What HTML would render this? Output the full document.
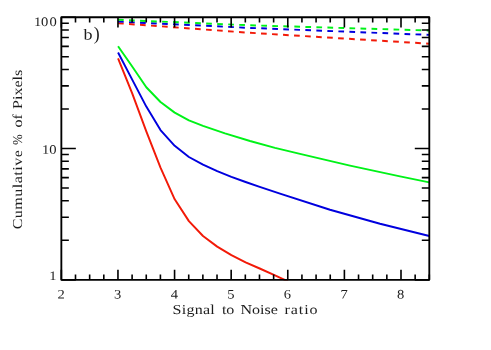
<!DOCTYPE html><html><head><meta charset="utf-8"><style>html,body{margin:0;padding:0;background:#fff;}svg{display:block;will-change:transform}text{font-family:"Liberation Serif",serif;fill:#1c1c1c}</style></head><body>
<svg width="491" height="350" viewBox="0 0 491 350">
<rect width="491" height="350" fill="#fff"/>
<defs><clipPath id="cp"><rect x="61.35" y="17.20" width="367.95" height="263.25"/></clipPath></defs><g clip-path="url(#cp)">
<polyline points="118.00,23.20 250.00,32.80 429.30,43.70" fill="none" stroke="#f21a08" stroke-width="1.95" stroke-linejoin="round" stroke-dasharray="5.7 5.33"/>
<polyline points="118.00,21.60 250.00,27.90 429.30,34.90" fill="none" stroke="#0000de" stroke-width="1.95" stroke-linejoin="round" stroke-dasharray="5.7 5.33"/>
<polyline points="118.00,19.80 250.00,25.30 429.30,30.50" fill="none" stroke="#00f218" stroke-width="1.95" stroke-linejoin="round" stroke-dasharray="5.7 5.33"/>
<polyline points="118.06,58.40 132.20,93.40 146.30,131.30 160.50,167.60 174.70,199.30 188.90,221.10 203.00,236.00 217.20,246.60 231.40,255.10 245.60,262.30 259.70,268.50 273.90,274.90 288.00,281.40" fill="none" stroke="#f21a08" stroke-width="1.95" stroke-linejoin="round"/>
<polyline points="118.06,52.50 132.20,79.60 146.30,106.60 160.50,130.10 174.70,145.80 188.90,157.00 203.00,164.70 217.20,171.20 231.40,176.80 245.60,182.00 259.70,186.90 280.00,193.60 330.00,209.70 380.00,223.80 429.30,236.00" fill="none" stroke="#0000de" stroke-width="1.95" stroke-linejoin="round"/>
<polyline points="118.06,46.30 132.20,66.50 146.30,87.30 160.50,102.00 174.70,112.60 188.90,120.40 203.00,125.90 225.00,133.40 250.00,141.00 275.00,147.90 300.00,153.90 350.00,165.60 400.00,176.40 429.30,182.40" fill="none" stroke="#00f218" stroke-width="1.95" stroke-linejoin="round"/>
</g>
<g stroke="#000" fill="none" stroke-linejoin="round">
<rect x="61.35" y="17.20" width="367.95" height="262.65" stroke-width="1.85"/>
<path d="M61.35 279.85V269.65M61.35 17.20V27.40M75.50 279.85V274.45M75.50 17.20V22.60M89.65 279.85V274.45M89.65 17.20V22.60M103.81 279.85V274.45M103.81 17.20V22.60M117.96 279.85V269.65M117.96 17.20V27.40M132.11 279.85V274.45M132.11 17.20V22.60M146.26 279.85V274.45M146.26 17.20V22.60M160.41 279.85V274.45M160.41 17.20V22.60M174.57 279.85V269.65M174.57 17.20V27.40M188.72 279.85V274.45M188.72 17.20V22.60M202.87 279.85V274.45M202.87 17.20V22.60M217.02 279.85V274.45M217.02 17.20V22.60M231.17 279.85V269.65M231.17 17.20V27.40M245.32 279.85V274.45M245.32 17.20V22.60M259.48 279.85V274.45M259.48 17.20V22.60M273.63 279.85V274.45M273.63 17.20V22.60M287.78 279.85V269.65M287.78 17.20V27.40M301.93 279.85V274.45M301.93 17.20V22.60M316.08 279.85V274.45M316.08 17.20V22.60M330.24 279.85V274.45M330.24 17.20V22.60M344.39 279.85V269.65M344.39 17.20V27.40M358.54 279.85V274.45M358.54 17.20V22.60M372.69 279.85V274.45M372.69 17.20V22.60M386.84 279.85V274.45M386.84 17.20V22.60M401.00 279.85V269.65M401.00 17.20V27.40M415.15 279.85V274.45M415.15 17.20V22.60M429.30 279.85V274.45M429.30 17.20V22.60M61.35 279.85H75.85M429.30 279.85H414.80M61.35 240.32H68.85M429.30 240.32H421.80M61.35 217.19H68.85M429.30 217.19H421.80M61.35 200.78H68.85M429.30 200.78H421.80M61.35 188.06H68.85M429.30 188.06H421.80M61.35 177.66H68.85M429.30 177.66H421.80M61.35 168.87H68.85M429.30 168.87H421.80M61.35 161.25H68.85M429.30 161.25H421.80M61.35 154.53H68.85M429.30 154.53H421.80M61.35 148.53H75.85M429.30 148.53H414.80M61.35 108.99H68.85M429.30 108.99H421.80M61.35 85.87H68.85M429.30 85.87H421.80M61.35 69.46H68.85M429.30 69.46H421.80M61.35 56.73H68.85M429.30 56.73H421.80M61.35 46.33H68.85M429.30 46.33H421.80M61.35 37.54H68.85M429.30 37.54H421.80M61.35 29.93H68.85M429.30 29.93H421.80M61.35 23.21H68.85M429.30 23.21H421.80M61.35 17.20H75.85M429.30 17.20H414.80" stroke-width="1.60"/>
</g>
<text transform="translate(61.05 298.50) rotate(0.03) scale(1.120 1)" font-size="13.00" text-anchor="middle">2</text>
<text transform="translate(117.66 298.50) rotate(0.03) scale(1.120 1)" font-size="13.00" text-anchor="middle">3</text>
<text transform="translate(174.27 298.50) rotate(0.03) scale(1.120 1)" font-size="13.00" text-anchor="middle">4</text>
<text transform="translate(230.87 298.50) rotate(0.03) scale(1.120 1)" font-size="13.00" text-anchor="middle">5</text>
<text transform="translate(287.48 298.50) rotate(0.03) scale(1.120 1)" font-size="13.00" text-anchor="middle">6</text>
<text transform="translate(344.09 298.50) rotate(0.03) scale(1.120 1)" font-size="13.00" text-anchor="middle">7</text>
<text transform="translate(400.70 298.50) rotate(0.03) scale(1.120 1)" font-size="13.00" text-anchor="middle">8</text>
<text transform="translate(57.90 25.90) rotate(0.03) scale(1.120 1)" font-size="13.00" text-anchor="end" letter-spacing="1.00">1<tspan dx="-1.1">00</tspan></text>
<text transform="translate(57.70 153.80) rotate(0.03) scale(1.120 1)" font-size="13.00" text-anchor="end" letter-spacing="1.00">1<tspan dx="-1.1">0</tspan></text>
<text transform="translate(56.60 280.00) rotate(0.03) scale(1.120 1)" font-size="13.00" text-anchor="end">1</text>
<text transform="translate(172.60 313.90) rotate(0.03) scale(1.180 1)" font-size="13.60"><tspan x="0" letter-spacing="0.2">Signal</tspan> <tspan x="41.78">to</tspan> <tspan x="57.54">Noise</tspan> <tspan x="94.75" letter-spacing="0.8">ratio</tspan></text>
<text transform="translate(22.00 229.30) rotate(-90) rotate(0.03) scale(1.180 1)" font-size="13.60" text-anchor="start" letter-spacing="0.40">Cumulative</text>
<text transform="translate(21.90 145.00) rotate(-90) rotate(0.03) scale(0.950 1)" font-size="13.60" text-anchor="start">%</text>
<text transform="translate(21.90 127.60) rotate(-90) rotate(0.03) scale(1.180 1)" font-size="13.60" text-anchor="start">of</text>
<text transform="translate(21.90 108.90) rotate(-90) rotate(0.03) scale(1.180 1)" font-size="13.60" text-anchor="start">Pixels</text>
<text transform="translate(83.50 39.50) rotate(0.03) scale(1.180 1)" font-size="15.30" text-anchor="start">b</text>
<text transform="translate(93.80 39.80) rotate(0.03) scale(0.950 1)" font-size="18.80" text-anchor="start">)</text>
</svg></body></html>
